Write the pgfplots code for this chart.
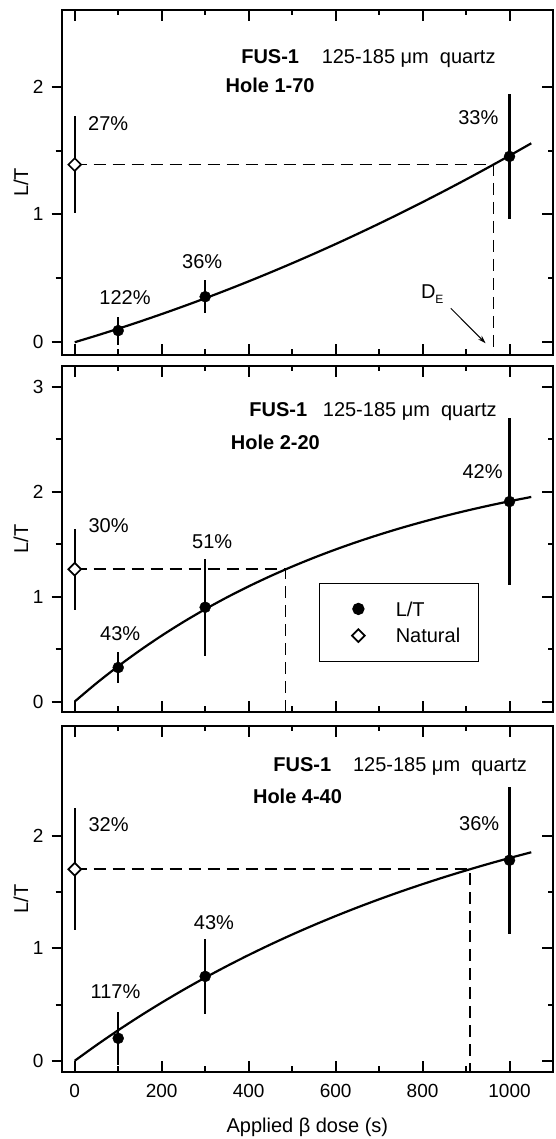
\documentclass[border=0pt]{standalone}
\usepackage{fontspec}
\setmainfont{Liberation Sans}
\usepackage{pgfplots}
\pgfplotsset{compat=1.18}
\usetikzlibrary{arrows.meta}
\newcommand\fz{\fontsize{20}{24}\selectfont}
\newcommand\fzt{\fontsize{19}{22}\selectfont}
\pgfplotsset{
  base/.style={scale only axis, width=491.3pt, xmin=-30, xmax=1100,
    axis line style={line width=2pt}, tick style={line width=2pt, black},
    major tick length=11pt, minor tick length=5.5pt, minor y tick num=1, clip=false,
    /pgf/number format/assume math mode=true},
  outer/.style={base, tick align=outside, xtick=\empty, ytick pos=left,
    major tick length=10pt, minor tick length=6pt,
    yticklabel style={font=\fzt, inner sep=0pt, xshift=-8pt},
    ylabel={L/T}, ylabel style={at={(axis description cs:0,0.5)}, anchor=center, rotate=0, yshift=40.7pt, font=\fz, inner sep=0pt}},
  inner/.style={base, tick align=inside, xtick={0,200,...,1000}, minor xtick={100,300,...,900},
    xtick pos=both, ytick pos=right, yticklabels={}, xticklabels={}},
  curve/.style={black, line width=2.2pt, smooth, mark=none, forget plot},
  dline/.style={black, line width=1.7pt, dash pattern=on 12pt off 7pt, mark=none, forget plot},
  ebar/.style={forget plot, only marks, mark=none, error bars/.cd, y dir=both, y explicit, error mark=none, error bar style={draw=black, line width=2.2pt, solid}},
  ltmark/.style={only marks, mark=*, mark size=5.5pt, black},
  natmark/.style={only marks, mark=square*, mark size=4.5pt, mark options={rotate=45, fill=white, draw=black, line width=1.7pt}},
}
\begin{document}
\begin{tikzpicture}
% ---------------- Panel 1 ----------------
\begin{axis}[outer, at={(61.7pt,784pt)}, anchor=south west, height=345pt, ymin=-0.1, ymax=2.6, ytick={0,1,2}]
\addplot[curve] coordinates {(0,0) (50,0.0517) (100,0.1056) (150,0.1618) (200,0.2202) (250,0.2808) (300,0.3437) (350,0.4089) (400,0.4762) (450,0.5459) (500,0.6178) (550,0.6919) (600,0.7682) (650,0.8469) (700,0.9277) (750,1.0108) (800,1.0962) (850,1.1838) (900,1.2736) (950,1.3657) (1000,1.4600) (1050,1.5566)};
\addplot[dline] coordinates {(0,1.39) (963,1.39) (963,-0.1)};
\addplot[ebar] coordinates {(0,1.39) +- (0,0.38) (100,0.091) +- (0,0.11) (300,0.356) +- (0,0.129) (1000,1.454) +- (0,0.487)};
\addplot[ltmark] coordinates {(100,0.091) (300,0.356) (1000,1.454)};
\addplot[natmark] coordinates {(0,1.39)};
\node[anchor=base west, font=\fz] at (axis cs:375,2.181) {\textbf{FUS-1}};
\node[anchor=base west, font=\fz] at (axis cs:560,2.181) {125-185 μm\ \ quartz};
\node[anchor=base west, font=\fz] at (axis cs:339,1.955) {\textbf{Hole 1-70}};
\node[anchor=base west, font=\fz] at (axis cs:22.7,1.656) {27\%};
\node[anchor=base west, font=\fz] at (axis cs:874,1.703) {33\%};
\node[anchor=base west, font=\fz] at (axis cs:239,0.577) {36\%};
\node[anchor=base west, font=\fz] at (axis cs:48.7,0.299) {122\%};
\node[anchor=base west, font=\fz, inner sep=0pt] at (axis cs:796,0.343) {D\raisebox{-5pt}{\fontsize{12}{14}\selectfont E}};
\draw[-{Stealth[length=8pt,width=5pt]}, line width=1pt] (axis cs:865,0.265) -- (axis cs:945,-0.008);
\end{axis}
\begin{axis}[inner, at={(61.7pt,784pt)}, anchor=south west, height=345pt, ymin=-0.1, ymax=2.6, ytick={0,1,2}]
\end{axis}
% ---------------- Panel 2 ----------------
\begin{axis}[outer, at={(61.7pt,427pt)}, anchor=south west, height=346pt, ymin=-0.1, ymax=3.2, ytick={0,1,2,3},
  legend style={at={(axis description cs:0.5239,0.3739)}, anchor=north west, draw=black, line width=1.3pt, fill=white,
    inner xsep=18pt, inner ysep=18.5pt, row sep=12.4pt, font=\fz,
    nodes={inner sep=0pt, text height=14.3pt, text depth=0pt},
    /tikz/every odd column/.style={column sep=31pt}, cells={anchor=west}},
  legend image code/.code={\path (-20pt,0pt) (5pt,0pt); \draw[#1, mark repeat=1] plot coordinates {(0pt,0pt)};}]
\addplot[curve] coordinates {(0,0) (50,0.1745) (100,0.3367) (150,0.4877) (200,0.6282) (250,0.7588) (300,0.8801) (350,0.9932) (400,1.0982) (450,1.1958) (500,1.2867) (550,1.3713) (600,1.4499) (650,1.5231) (700,1.5910) (750,1.6543) (800,1.7130) (850,1.7679) (900,1.8188) (950,1.8660) (1000,1.9099) (1050,1.9509)};
\addplot[dline] coordinates {(0,1.262) (485,1.262) (485,-0.1)};
\addplot[ebar] coordinates {(0,1.262) +- (0,0.386) (100,0.324) +- (0,0.146) (300,0.899) +- (0,0.461) (1000,1.907) +- (0,0.80)};
\addplot[ltmark] coordinates {(100,0.324) (300,0.899) (1000,1.907)};
\addlegendentry{L/T}
\addplot[natmark] coordinates {(0,1.262)};
\addlegendentry{Natural}
\node[anchor=base west, font=\fz] at (axis cs:393.5,2.717) {\textbf{FUS-1}};
\node[anchor=base west, font=\fz] at (axis cs:562.6,2.717) {125-185 μm\ \ quartz};
\node[anchor=base west, font=\fz] at (axis cs:351,2.40) {\textbf{Hole 2-20}};
\node[anchor=base west, font=\fz] at (axis cs:23.6,1.615) {30\%};
\node[anchor=base west, font=\fz] at (axis cs:262,1.462) {51\%};
\node[anchor=base west, font=\fz] at (axis cs:50.4,0.579) {43\%};
\node[anchor=base west, font=\fz] at (axis cs:884,2.13) {42\%};
\end{axis}
\begin{axis}[inner, at={(61.7pt,427pt)}, anchor=south west, height=346pt, ymin=-0.1, ymax=3.2, ytick={0,1,2,3}]
\end{axis}
% ---------------- Panel 3 ----------------
\begin{axis}[outer, at={(61.7pt,67pt)}, anchor=south west, height=346pt, ymin=-0.1, ymax=2.98, ytick={0,1,2}]
\addplot[curve] coordinates {(0,0) (50,0.1392) (100,0.2717) (150,0.3977) (200,0.5175) (250,0.6315) (300,0.7400) (350,0.8431) (400,0.9412) (450,1.0346) (500,1.1234) (550,1.2078) (600,1.2881) (650,1.3645) (700,1.4372) (750,1.5064) (800,1.5722) (850,1.6348) (900,1.6942) (950,1.7509) (1000,1.8047) (1050,1.8559)};
\addplot[dline] coordinates {(0,1.705) (909,1.705) (909,-0.1)};
\addplot[ebar] coordinates {(0,1.705) +- (0,0.544) (100,0.200) +- (0,0.238) (300,0.751) +- (0,0.331) (1000,1.785) +- (0,0.655)};
\addplot[ltmark] coordinates {(100,0.200) (300,0.751) (1000,1.785)};
\addplot[natmark] coordinates {(0,1.705)};
\node[anchor=base west, font=\fz] at (axis cs:449,2.576) {\textbf{FUS-1}};
\node[anchor=base west, font=\fz] at (axis cs:632,2.576) {125-185 μm\ \ quartz};
\node[anchor=base west, font=\fz] at (axis cs:402,2.287) {\textbf{Hole 4-40}};
\node[anchor=base west, font=\fz] at (axis cs:23.6,2.043) {32\%};
\node[anchor=base west, font=\fz] at (axis cs:876,2.054) {36\%};
\node[anchor=base west, font=\fz] at (axis cs:266,1.169) {43\%};
\node[anchor=base west, font=\fz] at (axis cs:28.5,0.558) {117\%};
\end{axis}
\begin{axis}[inner, at={(61.7pt,67pt)}, anchor=south west, height=346pt, ymin=-0.1, ymax=2.98, ytick={0,1,2},
  xticklabels={0,200,400,600,800,1000}, xticklabel style={font=\fzt, inner sep=0pt, yshift=-12.5pt},
  xlabel={Applied β dose (s)}, xlabel style={at={(axis description cs:0.5,0)}, anchor=north, yshift=-45.5pt, inner sep=0pt, font=\fz}]
\end{axis}
\pgfresetboundingbox
\path[use as bounding box] (0,0) rectangle (555pt,1139pt);
\end{tikzpicture}
\end{document}
